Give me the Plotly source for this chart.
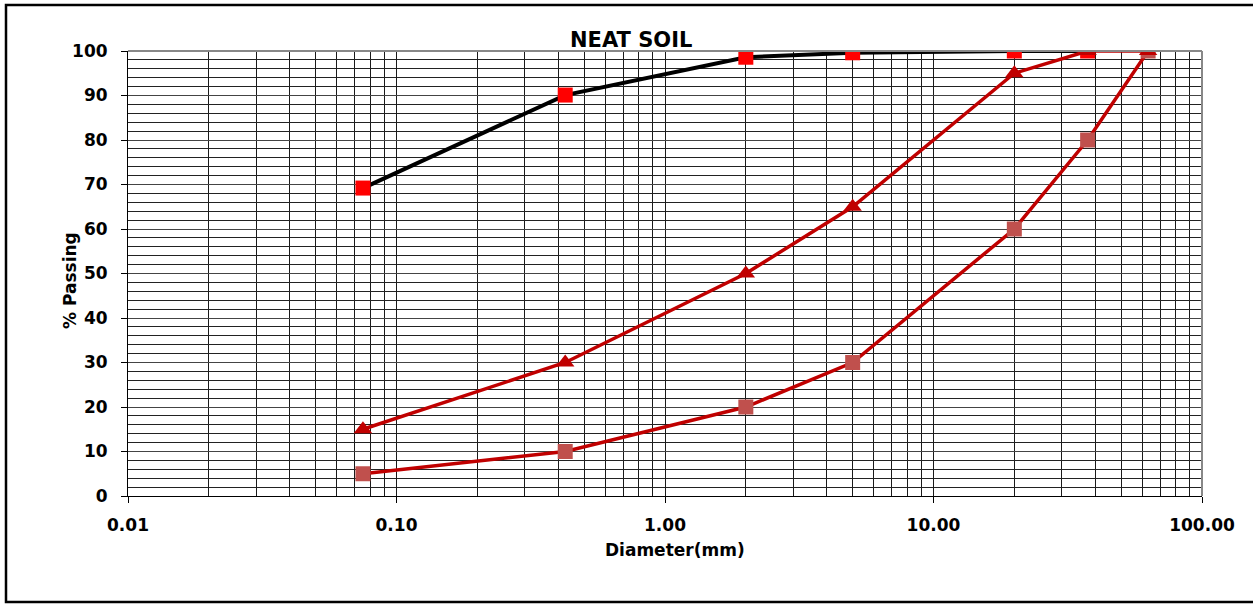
import plotly.graph_objects as go

# Sieve sizes (mm) and percent passing
sieve_mm = [0.075, 0.425, 2.0, 5.0, 20.0, 37.5, 63.0]
neat_soil = [69.2, 90.1, 98.6, 99.6, 100.0, 100.0]
upper_limit = [15, 30, 50, 65, 95, 100, 100]
lower_limit = [5, 10, 20, 30, 60, 80, 100]

x_tick_vals = [0.01, 0.1, 1, 10, 100]
x_tick_text = ["0.01", "0.10", "1.00", "10.00", "100.00"]
y_tick_vals = list(range(0, 101, 10))

FONT = "DejaVu Sans"
W, H = 1253, 605
L, R, T, B = 128, 51, 51, 109

fig = go.Figure()

fig.add_trace(go.Scatter(
    x=sieve_mm[:len(neat_soil)], y=neat_soil, mode="lines+markers",
    line=dict(color="black", width=4),
    marker=dict(symbol="square", size=15, color="#FF0000"),
    showlegend=False,
))
fig.add_trace(go.Scatter(
    x=sieve_mm, y=lower_limit, mode="lines+markers",
    line=dict(color="#C00000", width=3.5),
    marker=dict(symbol="square", size=15, color="#C0504D"),
    showlegend=False,
))
fig.add_trace(go.Scatter(
    x=sieve_mm, y=upper_limit, mode="lines+markers",
    line=dict(color="#C00000", width=3.5),
    marker=dict(symbol="triangle-up", size=16, color="#C00000"),
    showlegend=False,
))

pw = W - L - R
ph = H - T - B

def px_x(p):
    return (p - L) / pw

def px_y(p):
    return (H - B - p) / ph

# outer chart frame
fig.add_shape(type="rect", xref="paper", yref="paper",
              x0=px_x(6), x1=px_x(1262), y0=px_y(602), y1=px_y(5),
              line=dict(color="black", width=2.5), layer="below")

fig.add_annotation(text="<b>NEAT SOIL</b>", xref="paper", yref="paper",
                   x=px_x(631), y=px_y(40), xanchor="center", yanchor="middle",
                   showarrow=False,
                   font=dict(family=FONT, size=21, color="black"))
fig.add_annotation(text="<b>Diameter(mm)</b>", xref="paper", yref="paper",
                   x=px_x(675), y=px_y(550), xanchor="center", yanchor="middle",
                   showarrow=False,
                   font=dict(family=FONT, size=17, color="black"))
fig.add_annotation(text="<b>% Passing</b>", xref="paper", yref="paper",
                   x=px_x(70), y=px_y(281), xanchor="center", yanchor="middle",
                   showarrow=False, textangle=-90,
                   font=dict(family=FONT, size=17, color="black"))

tick_font = dict(family=FONT, size=17, color="black", weight="bold")

fig.update_xaxes(
    type="log", range=[-2, 2],
    tickvals=x_tick_vals, ticktext=x_tick_text,
    ticks="outside", ticklen=6, tickcolor="black",
    tickfont=tick_font, ticklabelstandoff=8,
    showline=True, linecolor="black", linewidth=1, mirror=False,
    showgrid=True, gridcolor="#1a1a1a", gridwidth=1,
    minor=dict(dtick="D1", showgrid=True, gridcolor="#1a1a1a", gridwidth=1, ticks=""),
    zeroline=False,
)
fig.update_yaxes(
    range=[0, 100], tickvals=y_tick_vals,
    ticks="outside", ticklen=6, tickcolor="black",
    tickfont=tick_font, ticklabelstandoff=10,
    showline=True, linecolor="black", linewidth=1,
    showgrid=True, gridcolor="#444444", gridwidth=1,
    minor=dict(dtick=2, showgrid=True, gridcolor="#222222", gridwidth=1, ticks=""),
    zeroline=False,
)

# top and right plot-area borders
fig.add_shape(type="line", xref="paper", yref="paper", x0=0, x1=1, y0=1, y1=1,
              line=dict(color="#888888", width=2))
fig.add_shape(type="line", xref="paper", yref="paper", x0=1, x1=1, y0=0, y1=1,
              line=dict(color="#888888", width=2))

fig.update_layout(
    width=W, height=H,
    margin=dict(l=L, r=R, t=T, b=B),
    paper_bgcolor="white", plot_bgcolor="white",
    font=dict(family=FONT, color="black"),
)

fig.write_html("out.html")
